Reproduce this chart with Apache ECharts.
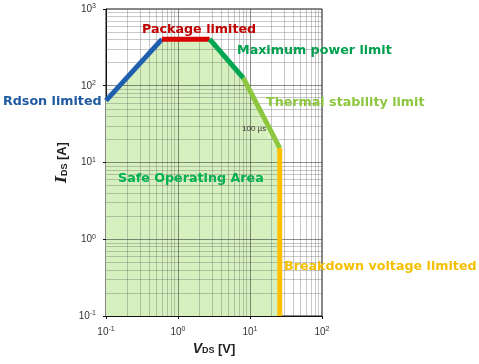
<!DOCTYPE html>
<html><head><meta charset="utf-8">
<script src="https://cdn.jsdelivr.net/npm/echarts@6/dist/echarts.min.js"></script>
<style>html,body{margin:0;padding:0;background:#fff}#c{width:479px;height:364px}</style>
</head><body><div id="c"></div>
<script>
// ---- data ----
const xMin = 0.1, xMax = 100, yMin = 0.1, yMax = 1000;
const decadesX = [0.1, 1, 10];
const decadesY = [0.1, 1, 10, 100];
const minorMult = [2, 3, 4, 5, 6, 7, 8, 9];
const majorX = [1, 10];
const majorY = [1, 10, 100];

const rdsonV = [0.1, 0.6];       const rdsonI = [64, 405];
const packageV = [0.6, 2.75];    const packageI = [405, 405];
const maxPowerV = [2.75, 8.1];   const maxPowerI = [405, 126];
const thermalV = [8.1, 25.9];    const thermalI = [126, 15.4];
const breakdownV = [25.9, 25.9]; const breakdownI = [15.4, 0.1];
// inner 100 µs region boundary
const pulseV = [0.1, 0.62, 2.7, 8.0, 13, 19, 24.5, 24.5];
const pulseI = [62, 375, 375, 120, 45, 19.5, 15, 0.1];

const zip = (a, b) => a.map((v, i) => [v, b[i]]);
const envV = rdsonV.concat(packageV.slice(1), maxPowerV.slice(1), thermalV.slice(1), breakdownV.slice(1));
const envI = rdsonI.concat(packageI.slice(1), maxPowerI.slice(1), thermalI.slice(1), breakdownI.slice(1));

const sup = v => { const e = Math.round(Math.log10(v)); return '10{s|' + e + '}'; };

const minorLines = [];
decadesX.forEach(d => minorMult.forEach(m => minorLines.push({ xAxis: d * m })));
decadesY.forEach(d => minorMult.forEach(m => minorLines.push({ yAxis: d * m })));
const majorLines = [];
majorX.forEach(v => majorLines.push({ xAxis: v }));
majorY.forEach(v => majorLines.push({ yAxis: v }));

function polySeries(vs, is, color, z) {
  return {
    type: 'custom', coordinateSystem: 'cartesian2d', silent: true, z: z,
    data: [[vs[0], is[0]]],
    renderItem: (params, api) => {
      const pts = vs.map((v, i) => api.coord([v, is[i]]));
      pts.push(api.coord([vs[vs.length - 1], yMin]));
      pts.push(api.coord([xMin, yMin]));
      return { type: 'polygon', shape: { points: pts }, style: { fill: color } };
    }
  };
}
function limitLine(vs, is, color, z) {
  return {
    type: 'line', data: zip(vs, is), showSymbol: false, silent: true, z: z,
    lineStyle: { color: color, width: 5, cap: 'butt', join: 'miter' }
  };
}

const labelRich = { s: { fontSize: 7, padding: [0, 0, 5, 0], fontFamily: 'Liberation Sans', color: '#333' } };
const F = 'bold 12.7px "DejaVu Sans"';

const chart = echarts.init(document.getElementById('c'), null, { renderer: 'canvas' });
chart.setOption({
  animation: false,
  backgroundColor: '#fff',
  grid: { left: 106, right: 157, top: 9, bottom: 48, show: true, borderColor: '#111', borderWidth: 1 },
  xAxis: {
    type: 'log', min: xMin, max: xMax, logBase: 10,
    axisLine: { show: true, lineStyle: { color: '#111', width: 1 } },
    axisTick: { show: true, length: 3, lineStyle: { color: '#111' } },
    splitLine: { show: false },
    axisLabel: { formatter: sup, fontSize: 10, color: '#333', margin: 10, fontFamily: 'Liberation Sans', rich: labelRich },
    name: '{i|V}{sub|DS} {b|[V]}', nameLocation: 'middle', nameGap: 26,
    nameTextStyle: { rich: {
      i: { fontSize: 14, fontStyle: 'italic', fontWeight: 'bold', fontFamily: 'Liberation Sans', color: '#222' },
      sub: { fontSize: 9, fontWeight: 'bold', fontFamily: 'Liberation Sans', color: '#222', padding: [4, 0, 0, 0] },
      b: { fontSize: 13, fontWeight: 'bold', fontFamily: 'Liberation Sans', color: '#222' } } }
  },
  yAxis: {
    type: 'log', min: yMin, max: yMax, logBase: 10,
    axisLine: { show: true, lineStyle: { color: '#111', width: 1 } },
    axisTick: { show: true, length: 3, lineStyle: { color: '#111' } },
    splitLine: { show: false },
    axisLabel: { formatter: sup, fontSize: 10, color: '#333', margin: 10, fontFamily: 'Liberation Sans', rich: labelRich },
    name: '{i|I}{sub|DS} {b|[A]}', nameLocation: 'middle', nameGap: 36, nameRotate: 90,
    nameTextStyle: { rich: {
      i: { fontSize: 15, fontStyle: 'italic', fontWeight: 'bold', fontFamily: 'DejaVu Serif', color: '#222' },
      sub: { fontSize: 9, fontWeight: 'bold', fontFamily: 'Liberation Sans', color: '#222', padding: [4, 0, 0, 0] },
      b: { fontSize: 13, fontWeight: 'bold', fontFamily: 'Liberation Sans', color: '#222' } } }
  },
  series: [
    polySeries(envV, envI, '#e3f5d1', 1),
    polySeries(pulseV, pulseI, '#d7f0bf', 2),
    {
      type: 'line', data: [], silent: true, z: 3,
      markLine: { silent: true, symbol: 'none', label: { show: false }, animation: false,
        lineStyle: { color: 'rgba(90,90,90,0.33)', width: 1, type: 'solid' }, data: minorLines }
    },
    {
      type: 'line', data: [], silent: true, z: 3,
      markLine: { silent: true, symbol: 'none', label: { show: false }, animation: false,
        lineStyle: { color: 'rgba(50,50,50,0.55)', width: 1, type: 'solid' }, data: majorLines }
    },
    limitLine(rdsonV, rdsonI, '#1f5fae', 5),
    limitLine(packageV, packageI, '#d90000', 5),
    limitLine(maxPowerV, maxPowerI, '#00a651', 5),
    limitLine(thermalV, thermalI, '#8dc63f', 5),
    limitLine(breakdownV, breakdownI, '#ffc000', 5)
  ],
  graphic: [
    { type: 'text', left: 142, top: 23, z: 10, style: { text: 'Package limited', font: F, fill: '#c00000' } },
    { type: 'text', left: 237, top: 44, z: 10, style: { text: 'Maximum power limit', font: F, fill: '#00a04e' } },
    { type: 'text', left: 266, top: 96, z: 10, style: { text: 'Thermal stability limit', font: F, fill: '#8dc63f' } },
    { type: 'text', left: 3, top: 95, z: 10, style: { text: 'Rdson limited', font: F, fill: '#1f5aa0' } },
    { type: 'text', left: 118, top: 172, z: 10, style: { text: 'Safe Operating Area', font: F, fill: '#00b050' } },
    { type: 'text', left: 284, top: 260, z: 10, style: { text: 'Breakdown voltage limited', font: F, fill: '#f5c000' } },
    { type: 'text', left: 242, top: 125, z: 10, style: { text: '100 µs', font: '8px "Liberation Sans"', fill: '#333' } }
  ]
});
</script>
</body></html>
